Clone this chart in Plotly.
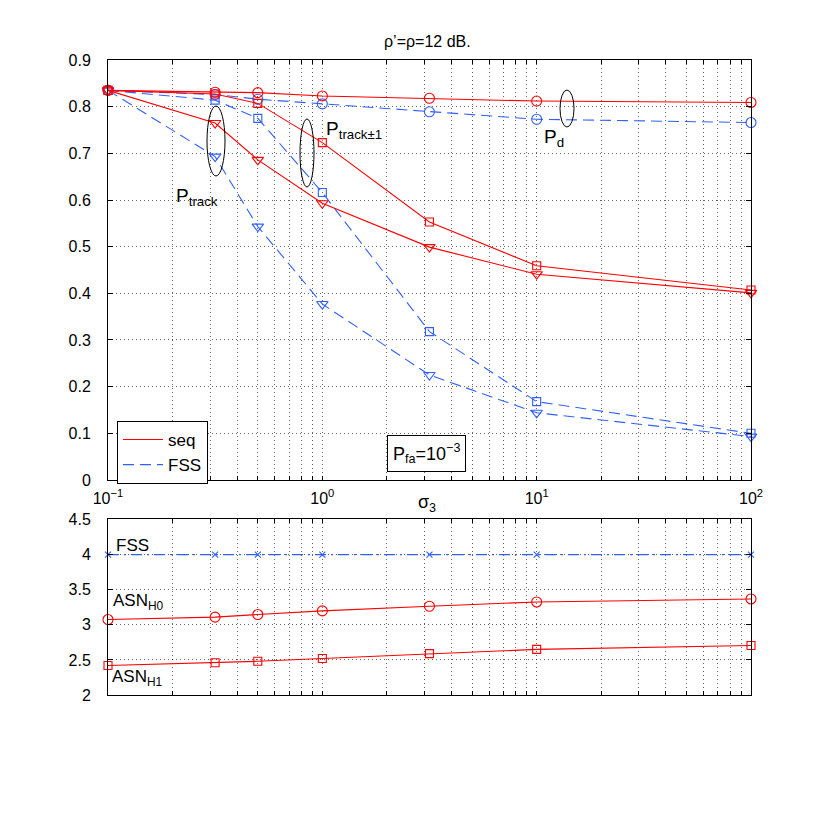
import plotly.graph_objects as go

# ---------------- data ----------------
sigma3 = [0.1, 0.316, 0.5, 1, 3.16, 10, 100]

pd_seq = [0.835, 0.831, 0.830, 0.823, 0.818, 0.812, 0.809]
pd_fss = [0.835, 0.826, 0.816, 0.806, 0.789, 0.773, 0.766]
ptrack1_seq = [0.835, 0.827, 0.807, 0.723, 0.553, 0.459, 0.407]
ptrack_seq = [0.835, 0.765, 0.686, 0.593, 0.499, 0.441, 0.401]
ptrack1_fss = [0.835, 0.814, 0.775, 0.616, 0.318, 0.168, 0.100]
ptrack_fss = [0.835, 0.693, 0.543, 0.377, 0.225, 0.144, 0.093]

asn_fss = [4, 4, 4, 4, 4, 4, 4]
asn_h0 = [3.075, 3.11, 3.146, 3.198, 3.264, 3.325, 3.368]
asn_h1 = [2.42, 2.46, 2.48, 2.52, 2.59, 2.65, 2.705]

major_x = [0.1, 1, 10, 100]
major_x_text = ["10<sup>−1</sup>", "10<sup>0</sup>", "10<sup>1</sup>", "10<sup>2</sup>"]
minor_mult = [2, 3, 4, 5, 6, 7, 8, 9]
ytick_top = [0, 0.1, 0.2, 0.3, 0.4, 0.5, 0.6, 0.7, 0.8, 0.9]
ytick_bot = [2, 2.5, 3, 3.5, 4, 4.5]

# all x ticks (major decades + minor 2..9), labels only on decades
xtick_vals, xtick_text = [], []
for i, d in enumerate(major_x):
    xtick_vals.append(d)
    xtick_text.append(major_x_text[i])
    if i < len(major_x) - 1:
        for m in minor_mult:
            xtick_vals.append(round(d * m, 6))
            xtick_text.append("")

RED = "#ff0000"
BLUE = "#3060ff"
DASH = "11px,6px"
DASHDOT = "11px,5px,2px,5px"
FONT = "Liberation Sans, Arial, sans-serif"

fig = go.Figure()


def add(x, y, color, dash, symbol, size, xa="x", ya="y"):
    fig.add_trace(go.Scatter(
        x=x, y=y, xaxis=xa, yaxis=ya, mode="lines+markers", showlegend=False,
        cliponaxis=False,
        line=dict(color=color, width=1.1, dash=dash),
        marker=dict(symbol=symbol, size=size, color=color,
                    line=dict(color=color, width=1.1)),
    ))


add(sigma3, pd_fss, BLUE, DASH, "circle-open", 10)
add(sigma3, ptrack1_fss, BLUE, DASH, "square-open", 8)
add(sigma3, ptrack_fss, BLUE, DASH, "triangle-down-open", 10)
add(sigma3, pd_seq, RED, "solid", "circle-open", 10)
add(sigma3, ptrack1_seq, RED, "solid", "square-open", 8)
add(sigma3, ptrack_seq, RED, "solid", "triangle-down-open", 10)

add(sigma3, asn_fss, BLUE, DASHDOT, "x-thin-open", 6, "x2", "y2")
add(sigma3, asn_h0, RED, "solid", "circle-open", 10, "x2", "y2")
add(sigma3, asn_h1, RED, "solid", "square-open", 8, "x2", "y2")

# legend-only traces
fig.add_trace(go.Scatter(x=[None], y=[None], mode="lines", name="seq",
                         line=dict(color=RED, width=1.1)))
fig.add_trace(go.Scatter(x=[None], y=[None], mode="lines", name="FSS",
                         line=dict(color=BLUE, width=1.1, dash=DASH)))

GRID = "rgba(0,0,0,0.6)"
GDASH = "1px,3px"
common_x = dict(
    type="log", range=[-1, 2], showline=True, linecolor="black", linewidth=1,
    mirror="allticks", ticks="inside", ticklen=4, tickcolor="black",
    tickmode="array", tickvals=xtick_vals, ticktext=xtick_text,
    showgrid=True, gridcolor=GRID, griddash=GDASH, gridwidth=1,
    zeroline=False, tickfont=dict(size=16, color="black", family=FONT),
    ticklabelstandoff=4,
)
common_y = dict(
    showline=True, linecolor="black", linewidth=1, mirror="allticks",
    ticks="inside", ticklen=5, tickcolor="black",
    showgrid=True, gridcolor=GRID, griddash=GDASH, gridwidth=1,
    zeroline=False, tickfont=dict(size=16, color="black", family=FONT),
    ticklabelstandoff=13,
)

fig.update_layout(
    width=814, height=801, autosize=False,
    margin=dict(l=100, r=71, t=52, b=114),
    paper_bgcolor="white", plot_bgcolor="white",
    font=dict(family=FONT, color="black", size=16),
    xaxis=dict(common_x, domain=[0, 1], anchor="y"),
    yaxis=dict(common_y, domain=[0.3386, 1], range=[0, 0.9],
               tickvals=ytick_top, ticktext=[str(v) for v in ytick_top], anchor="x"),
    xaxis2=dict(common_x, domain=[0, 1], anchor="y2", showticklabels=False),
    yaxis2=dict(common_y, domain=[0, 0.2764], range=[2, 4.5],
                tickvals=ytick_bot, ticktext=[str(v) for v in ytick_bot], anchor="x2"),
    legend=dict(x=0.014, y=0.4315, xanchor="left", yanchor="top",
                bordercolor="black", borderwidth=1, bgcolor="white",
                font=dict(size=17, family=FONT), itemwidth=40,
                tracegroupgap=0),
)


def fx(px):
    return (px - 108) / 643


def fy(py):
    return (695 - py) / 635


ellipses = [(207, 225, 106, 176), (300, 314, 119, 187), (560, 574, 90, 127)]
for x0, x1, y0, y1 in ellipses:
    fig.add_shape(type="circle", xref="paper", yref="paper",
                  x0=fx(x0), x1=fx(x1), y0=fy(y1), y1=fy(y0),
                  line=dict(color="black", width=1))

ann = [
    (427, 42, "ρ’=ρ=12 dB.", "center", 16),
    (427, 503, "σ<sub>3</sub>", "center", 18),
    (174, 197, "P<sub>track</sub>", "left", 19),
    (324, 130, "P<sub>track±1</sub>", "left", 19),
    (542, 138, "P<sub>d</sub>", "left", 19),
    (114, 545, "FSS", "left", 17),
    (111, 602, "ASN<sub>H0</sub>", "left", 17),
    (110, 678, "ASN<sub>H1</sub>", "left", 17),
]
for px, py, text, xa, size in ann:
    fig.add_annotation(x=fx(px), y=fy(py), xref="paper", yref="paper",
                       text=text, showarrow=False, xanchor=xa, yanchor="middle",
                       font=dict(size=size, family=FONT, color="black"))

fig.add_annotation(x=fx(426.5), y=fy(453.5), xref="paper", yref="paper",
                   text="P<sub>fa</sub>=10<sup>−3</sup>", showarrow=False,
                   xanchor="center", yanchor="middle",
                   bordercolor="black", borderwidth=1, bgcolor="white", borderpad=5,
                   font=dict(size=18, family=FONT, color="black"))

fig.write_html("out.html")
